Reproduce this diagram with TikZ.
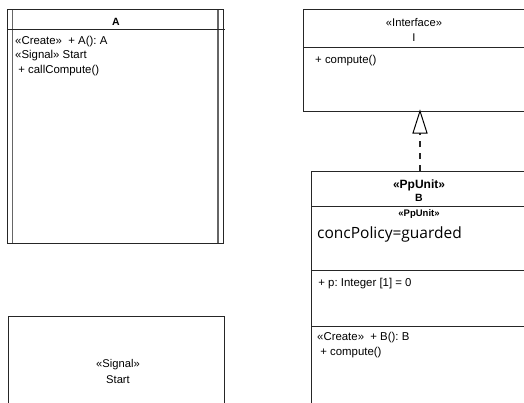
\documentclass[tikz,border=0pt]{standalone}
\usepackage{fontspec}
\setmainfont{Liberation Sans}
\newfontfamily\openfont{Open Sans}
\frenchspacing
\begin{document}
\begin{tikzpicture}[x=1pt,y=-1pt,
  box/.style={draw=black!85,line width=1pt},
  inner/.style={draw=black!60,line width=1.6pt},
  txt/.style={inner sep=0pt,anchor=base west,font=\fontsize{11.4}{13}\selectfont},
  ctxt/.style={inner sep=0pt,anchor=base,font=\fontsize{11.2}{13}\selectfont},
  btxt/.style={inner sep=0pt,anchor=base,font=\fontsize{10.5}{12}\selectfont\bfseries},
  realize/.style={draw=black!85,line width=1.2pt,dash pattern=on 6pt off 6pt}]
\useasboundingbox (0,0) rectangle (524,402);
% Class A
\draw[inner] (12.5,9) -- (12.5,243) (218,9) -- (218,243);
\draw[box] (7,9) rectangle (223,243);
\draw[box] (7,29) -- (225,29);
\node[btxt] (aName) at (116,25) {A};
\node[txt] (aOp1) at (15,44) {«Create»\ \ + A(): A};
\node[txt] (aOp2) at (15,58.5) {«Signal» Start};
\node[txt] (aOp3) at (15,73) {\ + callCompute()};
% Signal Start
\draw[box] (8,316) -- (8,410) (8,316) -- (224,316) -- (224,410);
\node[ctxt] (sig1) at (118,367) {«Signal»};
\node[ctxt] (sig2) at (118,383) {Start};
% Interface I
\draw[box] (303,111) -- (303,9) -- (530,9);
\draw[box] (303,47) -- (530,47);
\draw[box] (303,111) -- (530,111);
\coordinate (iBot) at (420,111);
\node[ctxt] (iSt) at (414,26) {«Interface»};
\node[ctxt] (iName) at (414,41) {I};
\node[txt] (iOp) at (315,63) {+ compute()};
% Class B
\draw[box] (311,410) -- (311,171) -- (530,171);
\draw[box] (311,206) -- (530,206);
\draw[box] (311,270) -- (530,270);
\draw[box] (311,326) -- (530,326);
\coordinate (bTop) at (420,171);
\node[inner sep=0pt,anchor=base,font=\fontsize{12}{14}\selectfont\bfseries] (bSt) at (419,188) {«PpUnit»};
\node[btxt] (bName) at (419,201) {B};
\node[inner sep=0pt,anchor=base,font=\fontsize{9.5}{11}\selectfont\bfseries] (bSt2) at (419,216) {«PpUnit»};
\node[inner sep=0pt,anchor=base west,font=\fontsize{15.5}{18}\openfont] (bTag) at (317,238) {concPolicy=guarded};
\node[txt] (bAttr) at (315,286) {\ + p: Integer [1] = 0};
\node[txt] (bOp1) at (317,340) {«Create»\ \ + B(): B};
\node[txt] (bOp2) at (317,355) {\ + compute()};
% Realization
\coordinate (triBase) at (420,133);
\draw[realize] (bTop) -- (triBase);
\draw[draw=black,line width=1pt,fill=white] (iBot) -- (427,133) -- (413,133) -- cycle;
\end{tikzpicture}
\end{document}
